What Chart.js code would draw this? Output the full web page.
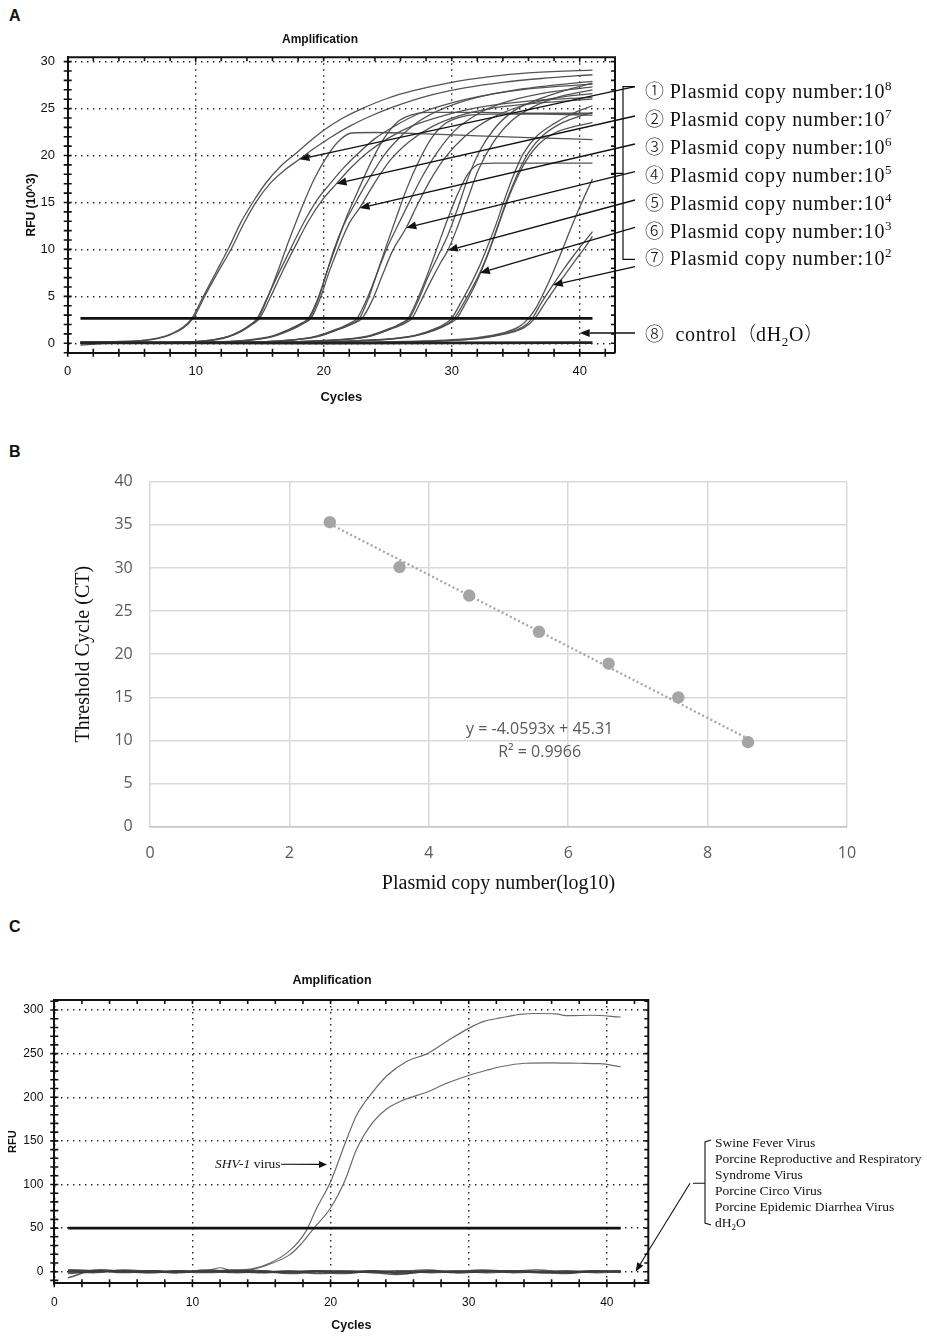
<!DOCTYPE html>
<html><head><meta charset="utf-8">
<script src="https://cdn.jsdelivr.net/npm/chart.js@4.4.1/dist/chart.umd.min.js"></script>
<style>
html,body{margin:0;padding:0;background:#fff;}
#page{position:relative;width:927px;height:1339px;overflow:hidden;background:#fff;}
canvas{position:absolute;left:0;}
.pl{position:absolute;left:9px;font:bold 16px 'Liberation Sans',Arial,sans-serif;color:#111;}
.la{position:absolute;left:645px;font-size:20px;line-height:24px;letter-spacing:0.7px;font-family:'Liberation Serif','Times New Roman',serif;color:#111;white-space:nowrap;}
.la .c{font-family:'Noto Sans CJK SC',sans-serif;font-size:19px;font-weight:300;letter-spacing:0;}
.la .p{font-family:'Noto Sans CJK SC',sans-serif;font-size:19px;font-weight:300;letter-spacing:0;}
.la sup{font-size:13px;vertical-align:baseline;position:relative;top:-8px;}
.la sub{font-size:13px;vertical-align:baseline;position:relative;top:5px;}
.lc{position:absolute;font-size:13.5px;line-height:16px;font-family:'Liberation Serif','Times New Roman',serif;color:#111;white-space:nowrap;}
.lc sub{font-size:9px;vertical-align:baseline;position:relative;top:3px;}
</style></head>
<body><div id="page">
<div class="pl" style="top:7px">A</div>
<div class="pl" style="top:443px">B</div>
<div class="pl" style="top:918px">C</div>
<canvas id="cA" width="927" height="420" style="top:0px"></canvas>
<canvas id="cB" width="927" height="480" style="top:430px"></canvas>
<canvas id="cC" width="927" height="429" style="top:910px"></canvas>
<div id="labelsA"></div>
<div class="la" style="top:321px"><span class="c">⑧</span>&nbsp;&nbsp;control<span class="p">（</span>dH<sub>2</sub>O<span class="p">）</span></div>
<div class="lc" style="left:215px;top:1156px"><i>SHV-1</i> virus</div>
<div class="lc" id="legendC" style="left:715px;top:1134.7px"></div>
</div>
<script>
// ---------------- Panel A data ----------------
const xTicksA = [0, 10, 20, 30, 40];
const yTicksA = [0, 5, 10, 15, 20, 25, 30];
const groupMarks = ['①','②','③','④','⑤','⑥','⑦'];
const copyExponents = [8, 7, 6, 5, 4, 3, 2];
const thresholdA = [[1, 2.66], [41, 2.66]];
const controlA = [[1, 0.05], [10, 0.05], [20, 0.02], [30, 0.05], [41, 0.08]];
const g1a = [[1,0.15],[4,0.2],[6,0.35],[7,0.55],[8,0.95],[9,1.7],[9.7,2.66],[10.6,5],[11.6,7.6],[12.6,10.2],[13.5,12.8],[14.5,15.1],[15.5,17.1],[16.6,18.8],[17.8,20.2],[19,21.6],[20,22.7],[21.5,24],[23,25],[25,26.1],[27,26.9],[30,27.8],[33,28.4],[36,28.8],[41,29.1]];
const g1b = [[1,-0.2],[4,0.1],[6,0.3],[7,0.5],[8,0.9],[9,1.6],[9.8,2.66],[10.7,5],[11.7,7.5],[12.8,10.1],[13.7,12.6],[14.7,15],[15.8,17],[17,18.5],[18.1,19.6],[19.3,20.8],[20.5,21.9],[22,23.1],[23.5,24.1],[25.5,25.2],[28,26.3],[31,27.2],[34,27.8],[37,28.2],[41,28.6]];
const g2a = [[1,0.1],[8,0.1],[11,0.3],[12.5,0.7],[13.5,1.3],[14.3,2],[14.8,2.66],[15.5,4.6],[16.5,7.5],[17.5,10.3],[18.5,13],[19.5,15.3],[20.5,17],[21.5,18.6],[22.6,20.1],[24,21.8],[25.5,23.1],[27.5,24.5],[30,25.6],[33,26.5],[36,27.1],[41,27.6]];
const g2b = [[1,0],[8,0.05],[11,0.25],[12.5,0.65],[13.5,1.2],[14.4,2],[15,2.66],[15.8,4.8],[16.8,7.7],[17.8,10.4],[18.8,13],[19.8,15.1],[21,17],[22.2,18.8],[23.5,20.4],[25,21.8],[27,23.2],[29.5,24.3],[32,25.1],[36,25.8],[41,26.2]];
const g2c = [[1,0.1],[8,0.1],[11,0.3],[12.5,0.7],[13.5,1.3],[14.3,2],[14.9,2.66],[15.6,4.8],[16.5,8],[17.3,11],[18.3,14.5],[19.3,17.6],[20.3,20],[21.3,21.7],[22.2,22.4],[24,22.45],[28,22.3],[32,22.1],[36,21.9],[41,21.7]];
const g3a = [[1,0],[10,0.05],[14,0.3],[16,0.75],[17.3,1.5],[18.2,2.1],[18.8,2.66],[19.5,4.6],[20.2,7.4],[20.8,10],[21.6,12.7],[22.5,15],[23.5,17.4],[24.7,20],[26,22],[27.5,23.7],[29.5,25.1],[32,26.2],[35,27],[38,27.5],[41,27.9]];
const g3b = [[1,0.05],[10,0.05],[14,0.3],[16,0.7],[17.4,1.4],[18.4,2.1],[19,2.66],[19.7,4.7],[20.4,7.5],[21.1,10],[22,12.8],[22.8,14.4],[23.9,16.9],[25.2,19.5],[26.7,21.5],[28.5,23.1],[30.5,24.2],[33,25],[36,25.5],[41,26]];
const g3c = [[1,0],[10,0.1],[14,0.35],[16,0.8],[17.4,1.5],[18.3,2.1],[18.9,2.66],[19.6,4.8],[20.3,7.8],[21,10.5],[21.8,13.5],[22.7,16.3],[23.7,19.3],[24.7,21.8],[25.7,23.5],[26.8,24.3],[28,24.6],[32,24.6],[36,24.5],[41,24.5]];
const g4a = [[1,0.1],[12,0.1],[17,0.3],[19.5,0.8],[21,1.5],[22,2.1],[22.6,2.66],[23.3,4.5],[24.1,7.2],[24.9,10],[25.7,12.3],[26.6,14.8],[27.6,17.5],[28.8,20.2],[30.2,22.6],[32,24.4],[34,25.6],[37,26.6],[41,27.3]];
const g4b = [[1,0],[12,0.05],[17,0.25],[19.5,0.7],[21,1.4],[22.2,2.1],[22.8,2.66],[23.5,4.8],[24.2,7.6],[24.9,10.4],[25.7,13.5],[26.5,16.5],[27.4,19.3],[28.4,21.8],[29.5,23.4],[31,24.2],[33,24.4],[37,24.4],[41,24.3]];
const g4c = [[1,0.05],[12,0.08],[17,0.3],[19.5,0.75],[21.2,1.5],[22.3,2.1],[23,2.66],[23.8,4.6],[24.6,7.3],[25.4,9.9],[26.45,12.3],[27.3,14.7],[28.3,17.3],[29.5,19.8],[31,22],[33,23.9],[35.5,25.3],[38,26.1],[41,26.6]];
const g5a = [[1,0.1],[14,0.1],[20,0.3],[23.5,0.8],[25,1.5],[26.1,2.1],[26.7,2.66],[27.4,4.6],[28.1,6.9],[28.9,9.2],[29.7,11.5],[30.5,14.5],[31.3,17.7],[32.2,20.5],[33.3,22.8],[34.8,24.7],[36.8,26],[38.8,26.9],[41,27.7]];
const g5b = [[1,0],[14,0.05],[20,0.25],[23.5,0.7],[25.2,1.5],[26.3,2.1],[26.9,2.66],[27.6,4.5],[28.4,6.7],[29.1,8.5],[29.7,9.9],[30.4,12.2],[31.2,15.2],[32.1,18.5],[33.2,21.3],[34.6,23.6],[36.4,25.2],[38.5,26.3],[41,27]];
const g5c = [[1,0.05],[14,0.08],[20,0.3],[23.5,0.75],[25,1.4],[26,2.1],[26.6,2.66],[27.3,4.6],[28.1,7.3],[28.9,10.3],[29.7,13.3],[30.5,16],[31.3,18.1],[32.2,19.1],[33.5,19.2],[37,19.2],[41,19.2]];
const g6a = [[1,0.1],[16,0.1],[23,0.3],[27,0.8],[28.6,1.5],[29.5,2.1],[30,2.66],[30.7,4.3],[31.5,6.3],[32.2,8.3],[32.8,10.3],[33.5,12.8],[34.1,15.2],[34.8,17.8],[35.6,20.2],[36.6,22],[38,23.4],[39.5,24.5],[41,25.3]];
const g6b = [[1,0],[16,0.05],[23,0.25],[27,0.75],[28.7,1.4],[29.7,2.1],[30.2,2.66],[30.9,4.2],[31.6,5.9],[32.2,7.5],[32.9,9.8],[33.6,12.5],[34.3,15.2],[35.1,17.9],[36,20.3],[37.1,22.1],[38.5,23.4],[39.8,24.1],[41,24.6]];
const g6c = [[1,0.05],[16,0.08],[23,0.3],[27,0.8],[28.8,1.5],[29.8,2.1],[30.4,2.66],[31.1,4.3],[31.9,6.4],[32.7,9],[33.4,11.6],[34.1,14.3],[34.9,17],[35.8,19.4],[36.8,21.2],[38.2,22.5],[39.6,23.1],[41,23.5]];
const g7a = [[1,0.1],[20,0.1],[28,0.25],[32,0.6],[34,1.1],[35.3,1.8],[36,2.66],[36.6,3.8],[37.2,5.4],[37.9,7.5],[38.6,9.8],[39.3,12.2],[40.1,14.8],[41,17.5]];
const g7b = [[1,0],[20,0.05],[28,0.2],[32,0.5],[34,1],[35.5,1.7],[36.3,2.66],[37,4.3],[37.9,6.2],[38.7,7.8],[39.5,9.3],[40.3,10.7],[41,11.9]];
const g7c = [[1,0.05],[20,0.05],[28,0.2],[32,0.5],[34.2,1],[35.7,1.7],[36.5,2.66],[37.2,4.1],[38.1,5.9],[38.9,7.4],[39.7,8.9],[40.4,10.2],[41,11.4]];
const curvesA = [g1a,g1b,g2a,g2b,g2c,g3a,g3b,g3c,g4a,g4b,g4c,g5a,g5b,g5c,g6a,g6b,g6c,g7a,g7b,g7c];
const arrowTipCycleA = [18.1, 21.0, 22.8, 26.45, 29.7, 32.2, 37.9];
const arrowTipRfuA   = [19.6, 17.0, 14.4, 12.3, 9.9, 7.5, 6.2];
const controlTipA = [40, 1.1];

// ---------------- Panel B data ----------------
const xTicksB = [0, 2, 4, 6, 8, 10];
const yTicksB = [0, 5, 10, 15, 20, 25, 30, 35, 40];
const log10Copies = [2.58, 3.58, 4.58, 5.58, 6.58, 7.58, 8.58];
const ctValues = [35.3, 30.1, 26.8, 22.6, 18.9, 15.0, 9.8];
const trendX = [2.58, 8.58];
const trendY = [35.1, 10.2];
const equationText = 'y = -4.0593x + 45.31';
const r2Text = 'R² = 0.9966';

// ---------------- Panel C data ----------------
const xTicksC = [0, 10, 20, 30, 40];
const yTicksC = [0, 50, 100, 150, 200, 250, 300];
const thresholdC = [[1, 50], [41, 50]];
const shvUpper = [[1,2],[3,1],[5,0],[7,1],[9,0],[11,1],[12,4.5],[12.8,1.5],[13.7,2],[15.4,8.4],[17.1,25],[18.2,46],[19,73],[20,103],[21,145],[21.9,180],[22.9,203],[24.1,225],[25.5,241],[27,250],[28.4,264],[30,279],[31.1,287],[32.3,291],[33.7,295],[35,296],[36.3,295.5],[37.2,293.5],[38.9,294],[41,292]];
const shvLower = [[1,-1],[3,0],[5,1],[7,-1],[9,0],[11,0],[13.7,1],[15.4,7.6],[17,19],[17.8,30.6],[18.8,50],[20,73],[21,103],[21.9,141],[23.1,172],[24.1,187],[25.3,197],[27,206],[28.4,216],[30,225],[31.3,231],[32.3,235],[34.1,239],[36,239.5],[38,239],[39.5,238.5],[41,235]];
const noiseCycles = [1,3,5,7,9,11,13,15,17,19,21,23,25,27,29,31,33,35,37,39,41];
const noise1 = [-7,2,0,-1,1,0,2,1,-2,0,1,-1,0,2,-1,0,1,-1,0,1,0];
const noise2 = [0,1,-1,1,0,-1,0,-1,1,-2,0,1,-2,0,1,-1,0,2,-1,0,1];
const noise3 = [1,-1,2,0,-1,1,-1,0,0,1,-1,0,1,-1,0,1,-1,0,1,-1,0];
const noise4 = [-2,0,1,-1,1,0,1,-1,0,0,-2,1,-1,0,0,2,0,-1,-2,1,-1];
const noise5 = [2,1,0,1,-1,2,0,1,-1,1,0,-1,-3,1,-1,0,1,0,-1,0,1];
const noiseC = [noise1, noise2, noise3, noise4, noise5];
const legendC = ['Swine Fever Virus','Porcine Reproductive and Respiratory','Syndrome Virus','Porcine Circo Virus','Porcine Epidemic Diarrhea Virus','dH<sub>2</sub>O'];
const shvTip = [19.74, 123];
const legendTipC = [42.08, 0];

// ---------------- helpers ----------------
const SANS = "'Liberation Sans', Arial, sans-serif";
const SERIF = "'Liberation Serif', 'Times New Roman', serif";
const OPEN = "'Open Sans', 'Liberation Sans', sans-serif";
Chart.defaults.animation = false;
Chart.defaults.color = '#111';
function pts(a){ return a.map(p => ({x:p[0], y:p[1]})); }
function fixedTicks(arr){ return s => { s.ticks = arr.map(v => ({value:v})); }; }
function arrow(ctx, x1, y1, x2, y2, head, w){
  const a = Math.atan2(y2-y1, x2-x1);
  const bx = x2 - head*Math.cos(a), by = y2 - head*Math.sin(a);
  ctx.beginPath(); ctx.moveTo(x1,y1); ctx.lineTo(bx,by); ctx.stroke();
  ctx.beginPath(); ctx.moveTo(x2,y2);
  ctx.lineTo(bx + w*Math.sin(a), by - w*Math.cos(a));
  ctx.lineTo(bx - w*Math.sin(a), by + w*Math.cos(a));
  ctx.closePath(); ctx.fill();
}

// frame + minor ticks + title for the qPCR panels
const framePlugin = {
  id: 'qframe',
  afterDraw(chart, args, o){
    const ctx = chart.ctx, ca = chart.chartArea, xs = chart.scales.x, ys = chart.scales.y;
    ctx.save();
    ctx.strokeStyle = '#111'; ctx.lineWidth = o.frameWidth;
    ctx.beginPath();
    ctx.moveTo(ca.left, ca.top); ctx.lineTo(ca.right, ca.top); ctx.lineTo(ca.right, ca.bottom);
    ctx.stroke();
    ctx.lineWidth = 1.6;
    const L = o.tickLen;
    ctx.beginPath();
    for (let v = Math.ceil(ys.min / o.yMinor) * o.yMinor; v <= ys.max + 1e-9; v += o.yMinor) {
      const y = ys.getPixelForValue(v);
      ctx.moveTo(ca.left - L, y); ctx.lineTo(ca.left + L, y);
      ctx.moveTo(ca.right - L, y); ctx.lineTo(ca.right, y);
    }
    for (let v = Math.ceil(xs.min / o.xMinor) * o.xMinor; v <= xs.max + 1e-9; v += o.xMinor) {
      const x = xs.getPixelForValue(v);
      ctx.moveTo(x, ca.bottom - L); ctx.lineTo(x, ca.bottom + L);
      ctx.moveTo(x, ca.top); ctx.lineTo(x, ca.top + L);
    }
    ctx.stroke();
    ctx.fillStyle = '#111';
    ctx.font = o.titleFont;
    ctx.textAlign = 'center'; ctx.textBaseline = 'middle';
    ctx.fillText(o.title, o.titleX, o.titleY);
    ctx.restore();
  }
};

const annA = {
  id: 'annA',
  afterDraw(chart){
    const {ctx, scales:{x, y}} = chart;
    ctx.save();
    ctx.strokeStyle = '#111'; ctx.fillStyle = '#111'; ctx.lineWidth = 1.3;
    const tailX = 635, tailY = [86.7, 116, 144, 171.7, 200, 227.3, 266.7];
    arrowTipCycleA.forEach((c, i) => {
      arrow(ctx, tailX, tailY[i], x.getPixelForValue(c), y.getPixelForValue(arrowTipRfuA[i]), 10, 4);
    });
    arrow(ctx, tailX, 333, x.getPixelForValue(controlTipA[0]), y.getPixelForValue(controlTipA[1]), 10, 4);
    ctx.lineWidth = 1.2;
    ctx.beginPath();
    ctx.moveTo(635, 86.7); ctx.lineTo(623, 86.7); ctx.lineTo(623, 259.3); ctx.lineTo(635, 259.3);
    ctx.moveTo(623, 173.3); ctx.lineTo(611, 173.3);
    ctx.stroke();
    ctx.restore();
  }
};

const annB = {
  id: 'annB',
  afterDraw(chart){
    const {ctx, scales:{x, y}} = chart;
    ctx.save();
    ctx.fillStyle = '#595959';
    ctx.font = "16px " + OPEN;
    ctx.textAlign = 'center'; ctx.textBaseline = 'middle';
    ctx.fillText(equationText, x.getPixelForValue(5.59), y.getPixelForValue(11.3));
    ctx.fillText(r2Text, x.getPixelForValue(5.59), y.getPixelForValue(8.65));
    ctx.restore();
  }
};

const annC = {
  id: 'annC',
  afterDraw(chart){
    const {ctx, scales:{x, y}} = chart;
    ctx.save();
    ctx.strokeStyle = '#111'; ctx.fillStyle = '#111'; ctx.lineWidth = 1.1;
    arrow(ctx, 281, 254.3, x.getPixelForValue(shvTip[0]), y.getPixelForValue(shvTip[1]), 8, 3.5);
    arrow(ctx, 690, 273.3, x.getPixelForValue(legendTipC[0]), y.getPixelForValue(legendTipC[1]), 9, 3.5);
    ctx.beginPath();
    ctx.moveTo(711, 230); ctx.lineTo(705, 232); ctx.lineTo(705, 313); ctx.lineTo(711, 315);
    ctx.moveTo(705, 273.3); ctx.lineTo(693, 273.3);
    ctx.stroke();
    ctx.restore();
  }
};

// ---------------- Panel A chart ----------------
const dotted = {color:'#222', lineWidth:1.4, drawTicks:false};
new Chart(document.getElementById('cA'), {
  type: 'line',
  data: { datasets: [
    {label:'threshold', data:pts(thresholdA), borderColor:'#111', borderWidth:2.6, pointRadius:0},
    {label:'control', data:pts(controlA), borderColor:'#222', borderWidth:2.8, pointRadius:0},
    ...curvesA.map((c, i) => ({label:'curve ' + (i+1), data:pts(c), borderColor:'rgba(75,75,75,0.95)', borderWidth:1.3, pointRadius:0, cubicInterpolationMode:'monotone'}))
  ]},
  options: {
    responsive:false, animation:false, events:[],
    layout:{padding:{left:0, top:57.3, right:312, bottom:14.3}},
    plugins:{legend:{display:false}, tooltip:{enabled:false},
      qframe:{frameWidth:2, tickLen:4, xMinor:2, yMinor:1, title:'Amplification', titleFont:"bold 12px " + SANS, titleX:320, titleY:40}},
    scales:{
      x:{type:'linear', min:0, max:42.76, afterBuildTicks:fixedTicks(xTicksA), afterFit:s => { s.height = 53; },
         ticks:{padding:11, font:{family:SANS, size:13}, color:'#111', maxRotation:0, autoSkip:false},
         grid:dotted, border:{display:true, color:'#111', width:2, dash:[1.4,4.6]},
         title:{display:true, text:'Cycles', font:{family:SANS, size:13, weight:'bold'}, color:'#111', padding:{top:0, bottom:0}}},
      y:{type:'linear', min:-1, max:30.46, afterBuildTicks:fixedTicks(yTicksA), afterFit:s => { s.width = 67.7; },
         ticks:{padding:12.7, font:{family:SANS, size:13}, color:'#111', autoSkip:false},
         grid:dotted, border:{display:true, color:'#111', width:2, dash:[1.4,4.6]},
         title:{display:true, text:'RFU (10^3)', font:{family:SANS, size:12, weight:'bold'}, color:'#111', padding:{top:24.8, bottom:0}}}
    }
  },
  plugins:[framePlugin, annA]
});

// ---------------- Panel B chart ----------------
const gridB = {color:'#d9d9d9', lineWidth:1.5, drawTicks:false};
new Chart(document.getElementById('cB'), {
  type: 'scatter',
  data: { datasets: [
    {label:'CT', data:log10Copies.map((v, i) => ({x:v, y:ctValues[i]})), pointRadius:6.2, backgroundColor:'#a5a5a5', borderColor:'#a5a5a5', borderWidth:0},
    {type:'line', label:'trend', data:trendX.map((v, i) => ({x:v, y:trendY[i]})), borderColor:'#a5a5a5', borderWidth:2.3, borderDash:[2,2.6], pointRadius:0, showLine:true}
  ]},
  options: {
    responsive:false, animation:false, events:[],
    layout:{padding:{left:0, top:51.7, right:80, bottom:13.3}},
    plugins:{legend:{display:false}, tooltip:{enabled:false}},
    scales:{
      x:{type:'linear', min:0, max:10, afterBuildTicks:fixedTicks(xTicksB), afterFit:s => { s.height = 70; },
         ticks:{padding:17, font:{family:OPEN, size:16}, color:'#595959'},
         grid:gridB, border:{display:true, color:'#c4c4c4', width:1.6},
         title:{display:true, text:'Plasmid copy number(log10)', font:{family:SERIF, size:20}, color:'#111', padding:{top:0, bottom:0.7}}},
      y:{type:'linear', min:0, max:40, afterBuildTicks:fixedTicks(yTicksB), afterFit:s => { s.width = 150; },
         ticks:{padding:17.3, font:{family:OPEN, size:16}, color:'#595959'},
         grid:gridB, border:{display:false},
         title:{display:true, text:'Threshold Cycle (CT)', font:{family:SERIF, size:20}, color:'#111', padding:{top:71.3, bottom:0}}}
    }
  },
  plugins:[annB]
});

// ---------------- Panel C chart ----------------
new Chart(document.getElementById('cC'), {
  type: 'line',
  data: { datasets: [
    {label:'threshold', data:pts(thresholdC), borderColor:'#111', borderWidth:2.6, pointRadius:0},
    ...noiseC.map((n, i) => ({label:'negative ' + (i+1), data:noiseCycles.map((c, j) => ({x:c, y:n[j]})), borderColor:'rgba(60,60,60,0.85)', borderWidth:1.6, pointRadius:0, tension:0.4})),
    {label:'SHV-1 a', data:pts(shvUpper), borderColor:'#6a6a6a', borderWidth:1.2, pointRadius:0, cubicInterpolationMode:'monotone'},
    {label:'SHV-1 b', data:pts(shvLower), borderColor:'#6a6a6a', borderWidth:1.2, pointRadius:0, cubicInterpolationMode:'monotone'}
  ]},
  options: {
    responsive:false, animation:false, events:[],
    layout:{padding:{left:0, top:90, right:278.7, bottom:5.6}},
    plugins:{legend:{display:false}, tooltip:{enabled:false},
      qframe:{frameWidth:2, tickLen:4, xMinor:2, yMinor:10, title:'Amplification', titleFont:"bold 12.5px " + SANS, titleX:332, titleY:71}},
    scales:{
      x:{type:'linear', min:0, max:43, afterBuildTicks:fixedTicks(xTicksC), afterFit:s => { s.height = 50.1; },
         ticks:{padding:12, font:{family:SANS, size:12}, color:'#111', maxRotation:0, autoSkip:false},
         grid:dotted, border:{display:true, color:'#111', width:2, dash:[1.4,4.6]},
         title:{display:true, text:'Cycles', font:{family:SANS, size:12.5, weight:'bold'}, color:'#111', padding:{top:0, bottom:0}}},
      y:{type:'linear', min:-13.3, max:311.5, afterBuildTicks:fixedTicks(yTicksC), afterFit:s => { s.width = 54.3; },
         ticks:{padding:11, font:{family:SANS, size:12}, color:'#111', autoSkip:false},
         grid:dotted, border:{display:true, color:'#111', width:2, dash:[1.4,4.6]},
         title:{display:true, text:'RFU', font:{family:SANS, size:11, weight:'bold'}, color:'#111', padding:{top:6, bottom:0}}}
    }
  },
  plugins:[framePlugin, annC]
});

// ---------------- HTML text labels ----------------
const la = document.getElementById('labelsA');
groupMarks.forEach((m, i) => {
  const d = document.createElement('div');
  d.className = 'la';
  d.style.top = (78 + i * 27.9) + 'px';
  d.innerHTML = '<span class="c">' + m + '</span> Plasmid copy number:10<sup>' + copyExponents[i] + '</sup>';
  la.appendChild(d);
});
document.getElementById('legendC').innerHTML = legendC.join('<br>');
</script>
</body></html>
